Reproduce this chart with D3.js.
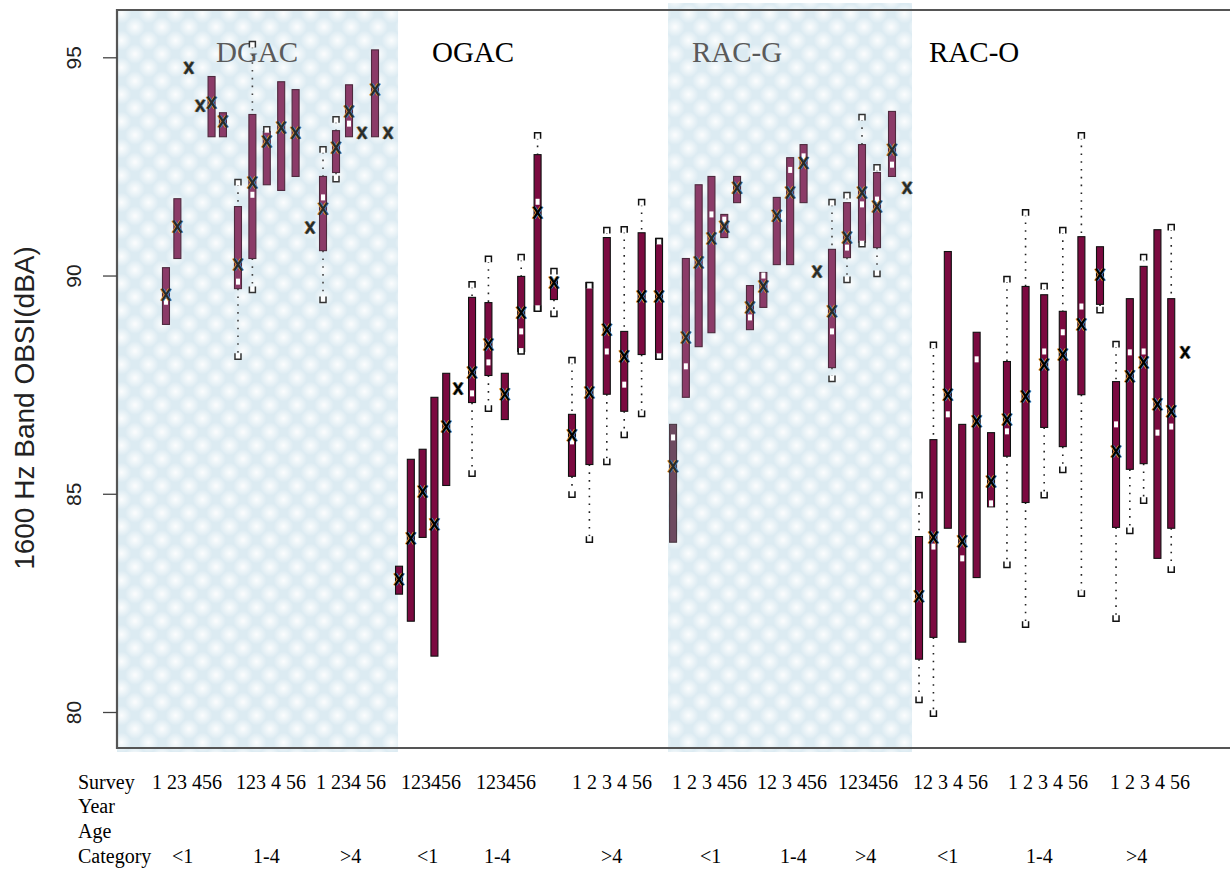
<!DOCTYPE html>
<html><head><meta charset="utf-8">
<script src="https://cdn.jsdelivr.net/npm/d3@7"></script>
<style>body{margin:0;background:#fff}svg{display:block}</style>
</head><body>
<svg id="chart" width="1230" height="874"></svg>
<script>
// ---------------- DATA ----------------
const materials = ["DGAC", "OGAC", "RAC-G", "RAC-O"];
const ageCategories = ["<1", "1-4", ">4"];
const surveyYears = [1, 2, 3, 4, 5, 6];
// each row: [mean, median, q1, q3, whiskerLow, whiskerHigh]  (null = not shown)
const dgacStats = [
  [89.56, 89.40, 88.88, 90.18, null, null],
  [91.12, null, 90.39, 91.76, null, null],
  [94.76, null, null, null, null, null],
  [93.89, null, null, null, null, null],
  [93.96, null, 93.18, 94.56, null, null],
  [93.53, null, 93.18, 93.73, null, null],
  [90.25, 89.86, 89.70, 91.58, 88.08, 92.20],
  [92.13, 91.85, 90.39, 93.69, 89.61, 95.36],
  [93.07, null, 92.08, 93.30, null, 93.41],
  [93.39, null, 91.95, 94.44, null, null],
  [93.27, null, 92.27, 94.26, null, null],
  [91.10, null, null, null, null, null],
  [91.53, 91.79, 90.57, 92.27, 89.38, 92.95],
  [92.93, null, 92.36, 93.32, 92.15, 93.64],
  [93.76, 93.48, 93.18, 94.37, null, null],
  [93.27, null, null, null, null, null],
  [94.26, null, 93.18, 95.17, null, null],
  [93.27, null, null, null, null, null]
];
const ogacStats = [
  [83.04, null, 82.70, 83.34, null, null],
  [83.98, null, 82.08, 85.79, null, null],
  [85.05, null, 84.00, 86.02, null, null],
  [84.30, null, 81.28, 87.21, null, null],
  [86.54, null, 85.19, 87.76, null, null],
  [87.41, null, null, null, null, null],
  [87.78, 87.30, 87.09, 89.50, 85.40, 89.86],
  [88.42, 88.01, 87.71, 89.38, 86.89, 90.44],
  [87.28, null, 86.70, 87.76, null, null],
  [89.15, 88.72, 88.26, 89.98, 88.20, 90.48],
  [91.44, 91.69, 89.18, 92.77, 89.18, 93.27],
  [89.84, 89.98, 89.45, 89.95, 89.06, 90.16],
  [86.34, 86.20, 85.40, 86.82, 84.92, 88.12],
  [87.32, null, 85.67, 89.84, 83.89, 89.84],
  [88.76, 88.26, 87.28, 90.87, 85.67, 91.10],
  [88.15, 87.50, 86.89, 88.72, 86.29, 91.12],
  [89.52, null, 88.19, 90.98, 86.77, 91.74],
  [89.52, null, 88.08, 90.85, 88.08, 90.85]
];
const racgStats = [
  [85.63, 86.29, 83.89, 86.59, null, null],
  [88.58, 87.92, 87.21, 90.39, null, null],
  [90.30, null, 88.37, 92.08, null, null],
  [90.85, 91.40, 88.69, 92.27, null, null],
  [91.12, 91.28, 90.87, 91.40, null, null],
  [92.01, null, 91.67, 92.27, null, null],
  [89.27, 89.04, 88.76, 89.77, null, null],
  [89.75, 90.00, 89.27, 90.07, null, null],
  [91.37, null, 90.25, 91.79, null, null],
  [91.90, 92.42, 90.25, 92.70, null, null],
  [92.58, 92.73, 91.67, 93.00, null, null],
  [90.09, null, null, null, null, null],
  [89.18, 88.72, 87.89, 90.60, 87.57, 91.74],
  [90.87, 90.64, 90.41, 91.67, 89.84, 91.90],
  [91.90, 91.63, 90.76, 93.00, 90.66, 93.69],
  [91.58, 91.74, 90.64, 92.36, 89.98, 92.54],
  [92.88, 92.54, 92.27, 93.76, null, null],
  [92.01, null, null, null, null, null]
];
const racoStats = [
  [82.65, null, 81.21, 84.02, 80.22, 85.03],
  [84.00, 83.79, 81.71, 86.24, 79.90, 88.47],
  [87.27, 86.82, 84.21, 90.55, null, null],
  [83.91, 83.52, 81.60, 86.59, null, null],
  [86.66, 88.08, 83.08, 88.70, null, null],
  [85.28, 84.78, 84.70, 86.40, null, null],
  [86.70, 86.43, 85.86, 88.03, 83.31, 89.98],
  [87.23, null, 84.80, 89.75, 81.94, 91.51],
  [87.96, 88.26, 86.52, 89.56, 84.91, 89.82],
  [88.19, 88.70, 86.08, 89.18, 85.49, 91.10],
  [88.88, 89.29, 87.27, 90.89, 82.65, 93.27],
  [90.02, null, 89.34, 90.66, 89.15, null],
  [85.97, 86.59, 84.23, 87.57, 82.08, 88.49],
  [87.69, 88.24, 85.56, 89.47, 84.09, null],
  [88.01, 88.26, 85.69, 90.21, 84.78, 90.48],
  [87.05, 86.40, 83.52, 91.05, null, null],
  [86.89, 86.54, 84.21, 89.47, 83.20, 91.17],
  [88.24, null, null, null, null, null]
];
const yTicks = [80, 85, 90, 95];
const yTitle = "1600 Hz Band OBSI(dBA)";
const surveyRowText = ["1 23 456", "123 4 56", "1 234 56", "123456", "123456", "1 2 3 4 56",
                       "1 2 3 456", "12 3 456", "123456", "12 3 4 56", "1 2 3 4 56", "1 2 3 4 56"];
const rowHeaders = ["Survey", "Year", "Age", "Category"];

// ---------------- LAYOUT ----------------
const statsByMaterial = {"DGAC": dgacStats, "OGAC": ogacStats, "RAC-G": racgStats, "RAC-O": racoStats};
const plotL = 117, plotR = 1230, plotT = 10, plotB = 748;
// slot units 0..100 across the plot width
const groupSpan = [[4.40, 9.52], [10.87, 17.34], [18.51, 24.35],
                   [25.34, 30.64], [31.90, 39.26], [40.88, 48.70],
                   [49.96, 55.71], [56.87, 62.89], [64.24, 70.98],
                   [72.06, 78.53], [79.96, 88.32], [89.76, 95.96]];
const shadedSpans = [{m: "DGAC", s: [0, 25.25], top: 10}, {m: "RAC-G", s: [49.51, 71.43], top: 3}];
const titleSlots = {"DGAC": 8.89, "OGAC": 28.30, "RAC-G": 51.66, "RAC-O": 72.96};
const surveyRowSlots = [3.14, 10.69, 17.88, 25.52, 32.26, 40.88, 49.87, 57.50, 64.78, 71.52, 80.05, 89.22];
const categoryRowSlots = [4.94, 12.22, 20.04, 26.95, 32.97, 43.49, 52.38, 59.57, 66.31, 73.67, 81.67, 90.66];
const rowBaselines = [789, 813, 838, 863];

const svg = d3.select("#chart");
const x = d3.scaleLinear().domain([0, 100]).range([plotL, plotR]);
const y = d3.scaleLinear().domain([80, 95]).range([712, 57.3]);

// pattern for shaded regions
const defs = svg.append("defs");
const rg = defs.append("radialGradient").attr("id", "blob");
rg.append("stop").attr("offset", "0%").attr("stop-color", "#ffffff").attr("stop-opacity", 0.9);
rg.append("stop").attr("offset", "100%").attr("stop-color", "#ffffff").attr("stop-opacity", 0);
const pat = defs.append("pattern").attr("id", "bgpat").attr("patternUnits", "userSpaceOnUse")
  .attr("width", 27).attr("height", 27);
pat.append("rect").attr("width", 27).attr("height", 27).attr("fill", "#dcebf2");
[[0,0],[27,0],[0,27],[27,27],[13.5,13.5]].forEach(([cx, cy]) =>
  pat.append("circle").attr("cx", cx).attr("cy", cy).attr("r", 10).attr("fill", "url(#blob)"));

// shaded regions
shadedSpans.forEach(sp => {
  svg.append("rect").attr("x", x(sp.s[0])).attr("y", sp.top)
    .attr("width", x(sp.s[1]) - x(sp.s[0])).attr("height", 752 - sp.top)
    .attr("fill", "url(#bgpat)");
});

// frame
svg.append("path").attr("d", `M${plotR},${plotT}H${plotL}V${plotB}H${plotR}`)
  .attr("fill", "none").attr("stroke", "#555").attr("stroke-width", 2.2);

// y axis ticks/labels
const yAxis = d3.axisLeft(y).tickValues(yTicks).tickSize(14).tickPadding(10).tickFormat(d3.format("d"));
const ya = svg.append("g").attr("transform", `translate(${plotL},0)`).call(yAxis);
ya.select(".domain").remove();
ya.selectAll(".tick line").attr("stroke", "#444").attr("stroke-width", 1.3);
ya.selectAll(".tick text")
  .attr("font-family", "Liberation Sans, Arial, sans-serif").attr("font-size", 21).attr("fill", "#222")
  .attr("transform", "rotate(-90)").attr("x", 0).attr("y", -36)
  .attr("text-anchor", "middle").attr("dy", "0");

svg.append("text").attr("transform", `translate(34,408) rotate(-90)`)
  .attr("text-anchor", "middle").attr("font-family", "Liberation Sans, Arial, sans-serif")
  .attr("font-size", 28).attr("fill", "#222").text(yTitle);

// titles
materials.forEach(m => {
  const shaded = shadedSpans.some(s => s.m === m);
  svg.append("text").attr("x", x(titleSlots[m])).attr("y", 62)
    .attr("font-family", "Liberation Serif, Times New Roman, serif").attr("font-size", 29)
    .attr("fill", shaded ? "#5a5a5a" : "#000").text(m);
});

// build records
const records = [];
materials.forEach((m, mi) => {
  ageCategories.forEach((a, ai) => {
    const gi = mi * 3 + ai;
    const px = d3.scalePoint().domain(surveyYears).range([x(groupSpan[gi][0]), x(groupSpan[gi][1])]);
    surveyYears.forEach((yr, yi) => {
      const r = statsByMaterial[m][ai * 6 + yi];
      records.push({material: m, age: a, year: yr, cx: px(yr),
        mean: r[0], median: r[1], q1: r[2], q3: r[3], lo: r[4], hi: r[5],
        shaded: shadedSpans.some(s => s.m === m), muted: m === "RAC-G" && ai === 0 && yi === 0});
    });
  });
});

const boxW = 7;
const g = svg.append("g");
records.forEach(d => {
  const dotColor = d.shaded ? "#444" : "#222";
  const capColor = d.shaded ? "#333" : "#111";
  // whiskers
  if (d.hi != null && d.q3 != null && d.hi > d.q3) {
    g.append("line").attr("x1", d.cx).attr("x2", d.cx).attr("y1", y(d.hi) + 5).attr("y2", y(d.q3))
      .attr("stroke", dotColor).attr("stroke-width", 1.6).attr("stroke-dasharray", "1.6,6.2");
  }
  if (d.lo != null && d.q1 != null && d.lo < d.q1) {
    g.append("line").attr("x1", d.cx).attr("x2", d.cx).attr("y1", y(d.q1)).attr("y2", y(d.lo) - 5)
      .attr("stroke", dotColor).attr("stroke-width", 1.6).attr("stroke-dasharray", "1.6,6.2");
  }
  // box
  if (d.q1 != null) {
    const fill = d.muted ? "#6d4a60" : (d.shaded ? "#8b3b68" : "#7b0a40");
    const stroke = d.muted ? "#4b3a44" : (d.shaded ? "#4e2a3e" : "#111");
    g.append("rect").attr("x", d.cx - boxW / 2).attr("y", y(d.q3)).attr("width", boxW)
      .attr("height", Math.max(2, y(d.q1) - y(d.q3))).attr("fill", fill)
      .attr("stroke", stroke).attr("stroke-width", 1.1);
  }
  // caps
  if (d.hi != null) {
    const yy = y(d.hi);
    g.append("path").attr("d", `M${d.cx - 3},${yy + 6}V${yy}H${d.cx + 3}V${yy + 6}`)
      .attr("fill", "#fff").attr("stroke", capColor).attr("stroke-width", 1.5);
  }
  if (d.lo != null) {
    const yy = y(d.lo);
    g.append("path").attr("d", `M${d.cx - 3},${yy - 6}V${yy}H${d.cx + 3}V${yy - 6}`)
      .attr("fill", "#fff").attr("stroke", capColor).attr("stroke-width", 1.5);
  }
  // median
  if (d.median != null) {
    g.append("rect").attr("x", d.cx - 2).attr("y", y(d.median) - 3).attr("width", 4).attr("height", 6)
      .attr("fill", "#fff");
  }
  // mean marker X
  const my = y(d.mean);
  const xp = (dx) => `M${d.cx - 4 + dx},${my - 6}L${d.cx + 4 + dx},${my + 6}M${d.cx + 4 + dx},${my - 6}L${d.cx - 4 + dx},${my + 6}`;
  g.append("path").attr("d", xp(-1.2)).attr("stroke", "#e8962e").attr("stroke-width", 1.8).attr("fill", "none");
  g.append("path").attr("d", xp(1.2)).attr("stroke", "#3a86c8").attr("stroke-width", 1.8).attr("fill", "none");
  g.append("path").attr("d", xp(0)).attr("stroke", d.shaded ? "#2a2a2a" : "#000").attr("stroke-width", 2.2).attr("fill", "none");
});

// bottom annotation rows
const serif = "Liberation Serif, Times New Roman, serif";
rowHeaders.forEach((t, i) => {
  svg.append("text").attr("x", 78).attr("y", rowBaselines[i]).attr("font-family", serif)
    .attr("font-size", 20).attr("fill", "#000").text(t);
});
surveyRowText.forEach((t, i) => {
  svg.append("text").attr("x", x(surveyRowSlots[i])).attr("y", rowBaselines[0])
    .attr("font-family", serif).attr("font-size", 20).attr("fill", "#000").text(t);
});
const catLabels = [];
materials.forEach(() => ageCategories.forEach(a => catLabels.push(a)));
catLabels.forEach((t, i) => {
  svg.append("text").attr("x", x(categoryRowSlots[i])).attr("y", rowBaselines[3])
    .attr("font-family", serif).attr("font-size", 20).attr("fill", "#000").text(t);
});
</script>
</body></html>
